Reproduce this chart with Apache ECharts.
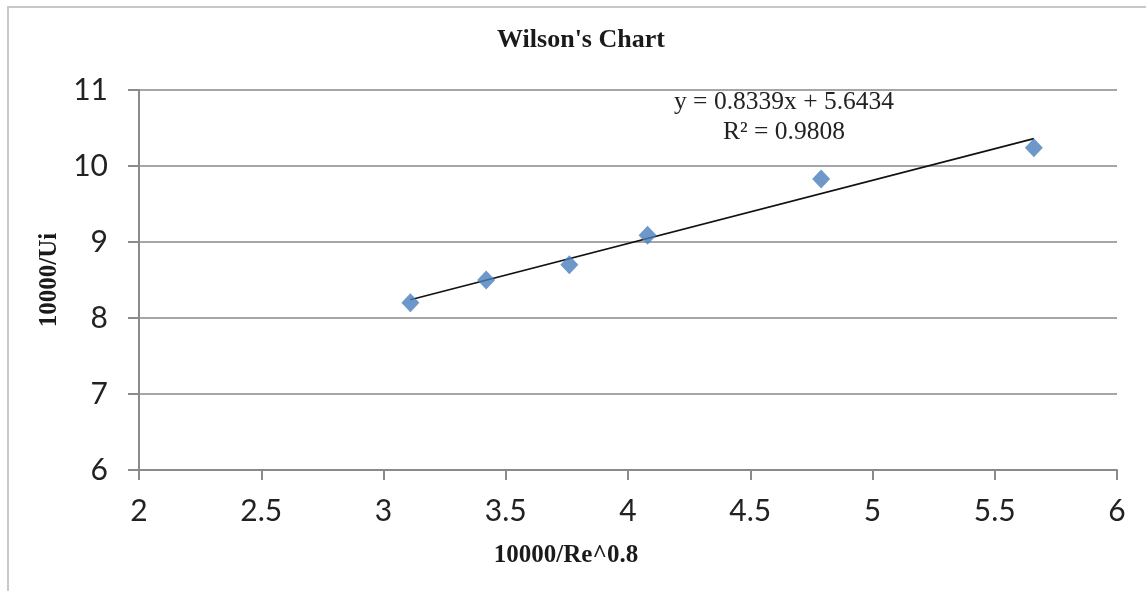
<!DOCTYPE html>
<html>
<head>
<meta charset="utf-8">
<script src="https://cdn.jsdelivr.net/npm/echarts@6/dist/echarts.min.js"></script>
<style>
html,body{margin:0;padding:0;background:#fff;}
#chart{width:1146px;height:591px;}
</style>
</head>
<body>
<div id="chart"></div>
<script>
// Data
var xValues = [3.11, 3.42, 3.76, 4.08, 4.79, 5.66];
var yValues = [8.20, 8.50, 8.70, 9.09, 9.83, 10.24];
// Linear trendline endpoints (y = 0.8339x + 5.6434 over the data range)
var trendX = [3.11, 5.66];
var trendY = [8.24, 10.36];
var equationText = 'y = 0.8339x + 5.6434';
var r2Text = 'R² = 0.9808';
var titleText = "Wilson's Chart";
var xName = '10000/Re^0.8';
var yName = '10000/Ui';

var points = xValues.map(function (x, i) { return [x, yValues[i]]; });
var trend = trendX.map(function (x, i) { return [x, trendY[i]]; });

var serif = '"Liberation Serif", "DejaVu Serif", serif';
var sans = 'Lato, "Open Sans", sans-serif';

var chart = echarts.init(document.getElementById('chart'));
chart.setOption({
  animation: false,
  backgroundColor: '#fff',
  grid: { left: 139, right: 29, top: 90, bottom: 121, containLabel: false },
  xAxis: {
    type: 'value', min: 2, max: 6, interval: 0.5,
    axisLine: { show: true, onZero: false, lineStyle: { color: '#8a8a8a', width: 2 } },
    axisTick: { show: true, length: 10, inside: false, lineStyle: { color: '#8a8a8a', width: 2 } },
    axisLabel: { margin: 26, fontFamily: sans, fontSize: 30, color: '#222' },
    splitLine: { show: false }
  },
  yAxis: {
    type: 'value', min: 6, max: 11, interval: 1,
    name: yName, nameLocation: 'middle', nameGap: 71, nameRotate: 90,
    nameTextStyle: { fontFamily: serif, fontWeight: 'bold', fontSize: 25, color: '#1a1a1a' },
    axisLine: { show: true, onZero: false, lineStyle: { color: '#8a8a8a', width: 2 } },
    axisTick: { show: true, length: 11, inside: false, lineStyle: { color: '#8a8a8a', width: 2 } },
    axisLabel: { margin: 31, fontFamily: sans, fontSize: 30, color: '#222' },
    splitLine: { show: true, lineStyle: { color: '#a6a6a6', width: 2 } }
  },
  series: [
    {
      type: 'line', data: trend, symbol: 'none', z: 3,
      lineStyle: { color: '#111', width: 1.6 }, silent: true
    },
    {
      type: 'scatter', data: points, symbol: 'diamond', symbolSize: [18, 19], z: 4,
      itemStyle: { color: '#4a7ebb' }
    }
  ],
  graphic: [
    {
      type: 'rect', shape: { x: 8, y: 7, width: 1200, height: 700 },
      style: { fill: 'none', stroke: '#c8c8c8', lineWidth: 2 }, z: -1, silent: true
    },
    {
      type: 'text', x: 581, y: 40,
      style: { text: titleText, fontFamily: serif, fontWeight: 'bold', fontSize: 26, fill: '#1a1a1a', align: 'center', verticalAlign: 'middle' }
    },
    {
      type: 'text', x: 566, y: 556,
      style: { text: xName, fontFamily: serif, fontWeight: 'bold', fontSize: 25, fill: '#1a1a1a', align: 'center', verticalAlign: 'middle' }
    },
    {
      type: 'text', x: 784, y: 102,
      style: { text: equationText, fontFamily: serif, fontSize: 25.5, fill: '#222', align: 'center', verticalAlign: 'middle' }
    },
    {
      type: 'text', x: 784, y: 132,
      style: { text: r2Text, fontFamily: serif, fontSize: 25.5, fill: '#222', align: 'center', verticalAlign: 'middle' }
    }
  ]
});
</script>
</body>
</html>
